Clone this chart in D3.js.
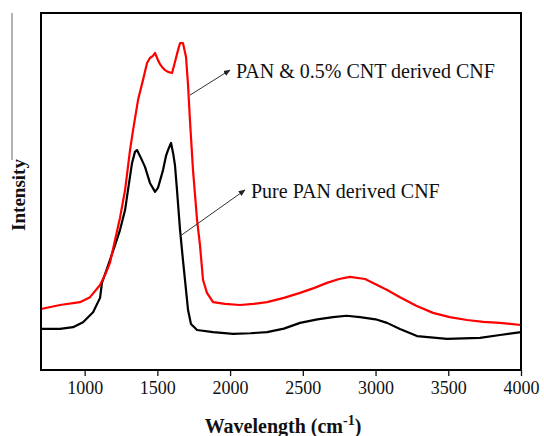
<!DOCTYPE html>
<html>
<head>
<meta charset="utf-8">
<script src="https://cdn.jsdelivr.net/npm/d3@7"></script>
<style>
  body { margin: 0; background: #fff; }
  svg text { font-family: "Liberation Serif", "Times New Roman", serif; fill: #111; }
</style>
</head>
<body>
<div id="chart"></div>
<script>
// Raman spectra - two CNF samples
var svgWidth = 544;
var svgHeight = 436;

var margin = { top: 13, right: 23, bottom: 66, left: 41 };
var width = svgWidth - margin.left - margin.right;
var height = svgHeight - margin.top - margin.bottom;

// wavenumber (cm-1) / intensity (a.u., 0-100 of the frame height)
var cntWave = [700, 831, 968, 1037, 1106, 1140, 1174, 1209, 1243, 1278, 1312, 1333, 1367, 1401, 1429, 1449, 1470, 1484, 1504, 1518, 1532, 1553, 1573, 1601, 1621, 1642, 1656, 1676, 1697, 1711, 1724, 1745, 1773, 1793, 1814, 1841, 1883, 1965, 2068, 2160, 2254, 2370, 2481, 2580, 2666, 2750, 2824, 2928, 2983, 3080, 3168, 3280, 3395, 3510, 3629, 3740, 3856, 4000];
var cntInt = [17.1, 18.2, 19.0, 20.4, 23.8, 26.6, 30.0, 36.4, 42.6, 50.4, 61.6, 67.2, 75.6, 81.2, 86.0, 87.4, 88.0, 88.8, 86.8, 85.7, 84.9, 84.0, 83.5, 83.2, 86.3, 89.6, 91.6, 91.6, 87.7, 79.8, 70.0, 56.0, 42.0, 35.0, 25.2, 21.6, 19.0, 18.5, 18.2, 18.5, 19.0, 20.2, 21.6, 23.0, 24.4, 25.5, 26.1, 25.5, 24.4, 22.4, 20.4, 18.0, 16.0, 14.8, 14.0, 13.5, 13.2, 12.6];

var panWave = [700, 831, 920, 989, 1058, 1106, 1119, 1174, 1209, 1243, 1278, 1298, 1326, 1346, 1360, 1381, 1415, 1449, 1484, 1504, 1539, 1559, 1573, 1594, 1608, 1621, 1635, 1656, 1676, 1690, 1711, 1731, 1773, 1883, 2020, 2140, 2254, 2370, 2481, 2600, 2708, 2800, 2893, 3000, 3079, 3168, 3285, 3491, 3718, 3856, 4000];
var panInt = [11.5, 11.5, 12.0, 13.4, 16.2, 20.2, 24.4, 30.8, 35.0, 39.2, 44.8, 50.4, 58.0, 61.1, 61.6, 59.9, 56.9, 52.4, 49.9, 51.0, 56.0, 59.9, 61.6, 63.6, 60.8, 57.4, 50.4, 39.2, 30.8, 25.2, 16.8, 12.9, 11.2, 10.6, 10.1, 10.3, 10.6, 11.6, 13.2, 14.2, 14.8, 15.2, 14.8, 14.2, 13.2, 11.5, 9.5, 8.7, 9.0, 9.8, 10.6];

var xTicks = [1000, 1500, 2000, 2500, 3000, 3500, 4000];

var svg = d3.select("#chart")
    .append("svg")
    .attr("width", svgWidth)
    .attr("height", svgHeight);

var chartGroup = svg.append("g")
    .attr("transform", `translate(${margin.left}, ${margin.top})`);

var xScale = d3.scaleLinear().domain([700, 4000]).range([0, width]);
var yScale = d3.scaleLinear().domain([0, 100]).range([height, 0]);

// bottom axis, ticks pointing outward
var xAxis = chartGroup.append("g")
    .attr("transform", `translate(0, ${height})`)
    .call(d3.axisBottom(xScale)
        .tickValues(xTicks)
        .tickFormat(d3.format("d"))
        .tickSize(6)
        .tickSizeOuter(0)
        .tickPadding(5));
xAxis.select(".domain").remove();
xAxis.selectAll("line").attr("stroke", "#111").attr("stroke-width", 1.3);
xAxis.selectAll("text")
    .attr("font-size", "18px")
    .attr("font-family", "Liberation Serif")
    .attr("fill", "#111");

// spectra
var line = d3.line()
    .x(d => xScale(d[0]))
    .y(d => yScale(d[1]));

var cntData = d3.zip(cntWave, cntInt);
var panData = d3.zip(panWave, panInt);

chartGroup.append("path")
    .datum(panData)
    .attr("d", line)
    .attr("fill", "none")
    .attr("stroke", "#000")
    .attr("stroke-width", 2.2)
    .attr("stroke-linejoin", "round");

chartGroup.append("path")
    .datum(cntData)
    .attr("d", line)
    .attr("fill", "none")
    .attr("stroke", "#ff0000")
    .attr("stroke-width", 2.2)
    .attr("stroke-linejoin", "round");

// plot frame
chartGroup.append("rect")
    .attr("x", 0)
    .attr("y", 0)
    .attr("width", width)
    .attr("height", height)
    .attr("fill", "none")
    .attr("stroke", "#000")
    .attr("stroke-width", 2);

// annotation arrows
var defs = svg.append("defs");
defs.append("marker")
    .attr("id", "head")
    .attr("viewBox", "0 0 10 10")
    .attr("refX", 9)
    .attr("refY", 5)
    .attr("markerWidth", 7)
    .attr("markerHeight", 7)
    .attr("orient", "auto")
    .attr("markerUnits", "userSpaceOnUse")
    .append("path")
    .attr("d", "M0,1 L10,5 L0,9 z")
    .attr("fill", "#222");

function annotate(fromW, fromI, tipX, tipY, label) {
    chartGroup.append("line")
        .attr("x1", xScale(fromW))
        .attr("y1", yScale(fromI))
        .attr("x2", tipX)
        .attr("y2", tipY)
        .attr("stroke", "#333")
        .attr("stroke-width", 1)
        .attr("marker-end", "url(#head)");
    chartGroup.append("text")
        .attr("x", tipX + 6)
        .attr("y", tipY + 8)
        .attr("font-size", "20px")
        .text(label);
}

annotate(1724, 77, 230 - margin.left, 70 - margin.top, "PAN & 0.5% CNT derived CNF");
annotate(1656, 37.5, 245 - margin.left, 190 - margin.top, "Pure PAN derived CNF");

// y label
svg.append("line")
    .attr("x1", 12).attr("x2", 12)
    .attr("y1", 13).attr("y2", 160)
    .attr("stroke", "#666")
    .attr("stroke-width", 1);

svg.append("text")
    .attr("transform", "translate(25, 195) rotate(-90)")
    .attr("text-anchor", "middle")
    .attr("font-size", "19px")
    .attr("font-weight", "bold")
    .text("Intensity");

// x label with superscript
var xTitle = svg.append("text")
    .attr("x", margin.left + width / 2 + 2)
    .attr("y", 433)
    .attr("text-anchor", "middle")
    .attr("font-size", "20px")
    .attr("font-weight", "bold");
xTitle.append("tspan").text("Wavelength (cm");
xTitle.append("tspan").attr("dy", -8).attr("font-size", "14px").text("-1");
xTitle.append("tspan").attr("dy", 8).text(")");
</script>
</body>
</html>
